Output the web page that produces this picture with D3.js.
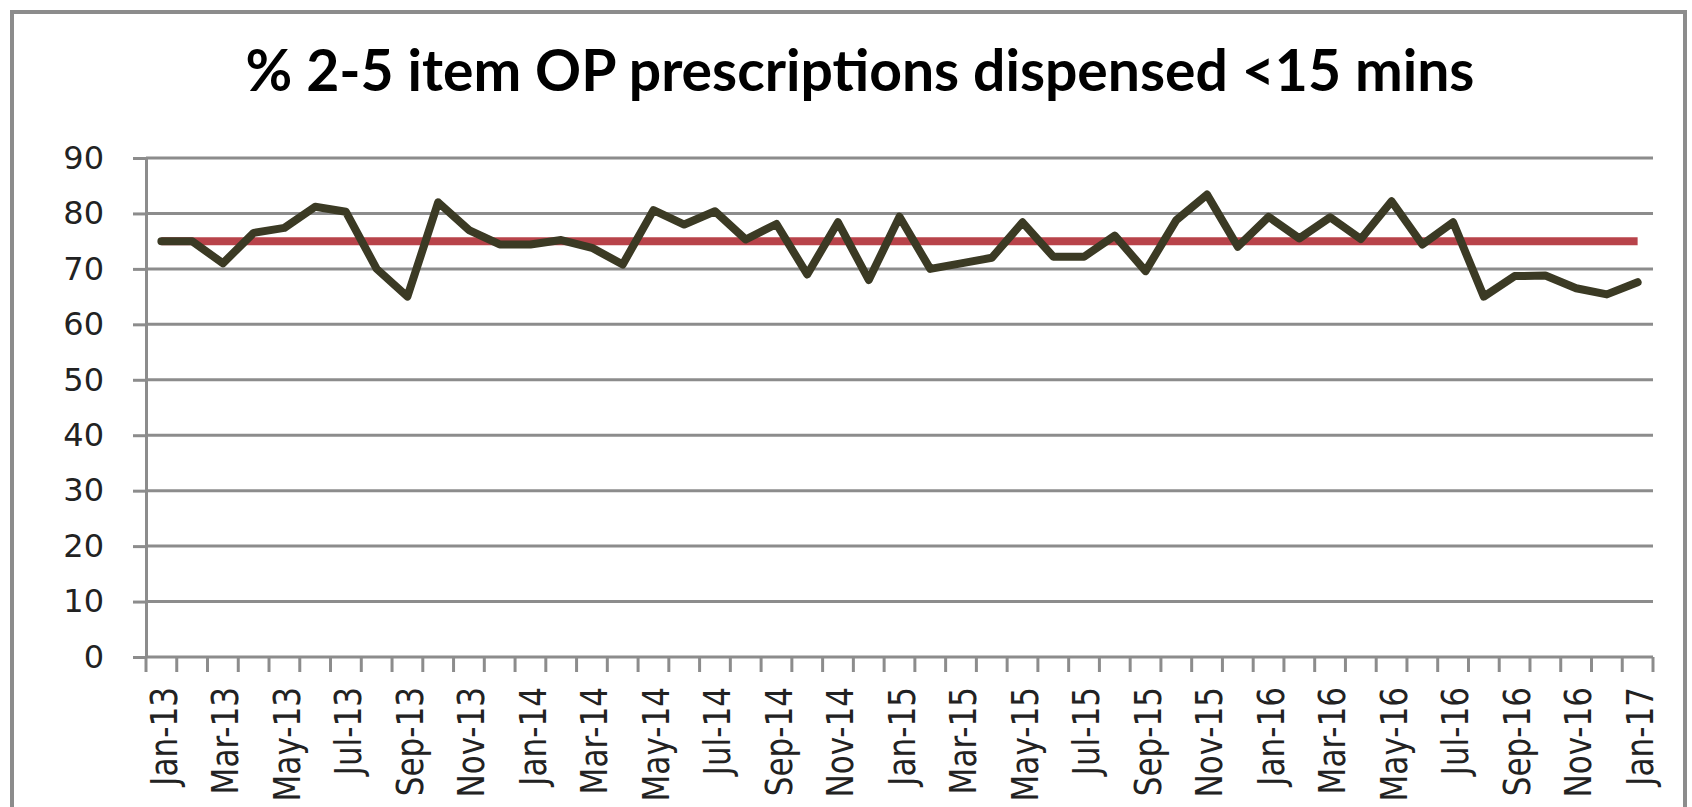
<!DOCTYPE html>
<html>
<head>
<meta charset="utf-8">
<script src="https://cdn.jsdelivr.net/npm/d3@7"></script>
<style>
  body { margin: 0; background: #fff; }
  svg { display: block; }
</style>
</head>
<body>
<svg id="canvas" width="1692" height="807"></svg>
<script>
let months = ['Jan-13','Feb-13','Mar-13','Apr-13','May-13','Jun-13','Jul-13','Aug-13','Sep-13','Oct-13','Nov-13','Dec-13',
              'Jan-14','Feb-14','Mar-14','Apr-14','May-14','Jun-14','Jul-14','Aug-14','Sep-14','Oct-14','Nov-14','Dec-14',
              'Jan-15','Feb-15','Mar-15','Apr-15','May-15','Jun-15','Jul-15','Aug-15','Sep-15','Oct-15','Nov-15','Dec-15',
              'Jan-16','Feb-16','Mar-16','Apr-16','May-16','Jun-16','Jul-16','Aug-16','Sep-16','Oct-16','Nov-16','Dec-16',
              'Jan-17']

// % dispensed < 15 mins
let pct = [75, 75, 71, 76.5, 77.4, 81.2, 80.3, 70, 65, 82, 77, 74.4,
           74.4, 75.2, 73.8, 70.8, 80.6, 78, 80.4, 75.3, 78.1, 69, 78.4, 68,
           79.4, 70, 71, 72, 78.4, 72.2, 72.2, 76, 69.6, 78.8, 83.4, 74,
           79.4, 75.5, 79.3, 75.4, 82.2, 74.4, 78.4, 65, 68.7, 68.8, 66.5, 65.4,
           67.6]

let target = months.map(() => 75)

let yTicks = [0, 10, 20, 30, 40, 50, 60, 70, 80, 90]

// every other month gets a label
let xLabels = months.filter((m, i) => i % 2 === 0)

let titleText = '% 2-5 item OP prescriptions dispensed <15 mins'

let canvas = d3.select('#canvas')

let plotLeft = 146, plotRight = 1653, plotTop = 158, plotBottom = 657
let gridColor = '#8c8c8c'

let drawChart = () => {

    // outer frame
    canvas.append('rect')
        .attr('x', 12).attr('y', 12)
        .attr('width', 1673).attr('height', 810)
        .attr('fill', 'none')
        .attr('stroke', gridColor)
        .attr('stroke-width', 4)

    let title = canvas.append('text')
        .text(titleText)
        .attr('x', 860)
        .attr('y', 91)
        .attr('text-anchor', 'middle')
        .style('font-family', 'Lato, "Open Sans", sans-serif')
        .style('font-weight', 700)
        .style('font-size', '36px')
        .attr('fill', '#000')
    // fit the title to the width in the picture
    let w = title.node().getComputedTextLength()
    title.style('font-size', (36 * 1229 / w) + 'px')

    let xScale = d3.scaleBand()
        .domain(months)
        .range([plotLeft, plotRight])
        .paddingInner(0)
        .paddingOuter(0)

    let yScale = d3.scaleLinear()
        .domain([0, 90])
        .range([plotBottom, plotTop])

    // gridlines
    canvas.append('g')
        .selectAll('line')
        .data(yTicks.filter(t => t > 0))
        .enter()
        .append('line')
        .attr('x1', plotLeft)
        .attr('x2', plotRight)
        .attr('y1', (t) => yScale(t))
        .attr('y2', (t) => yScale(t))
        .attr('stroke', gridColor)
        .attr('stroke-width', 3)

    // y axis
    let yAxis = d3.axisLeft(yScale)
        .tickValues(yTicks)
        .tickSize(13)
        .tickPadding(29)
        .tickSizeOuter(0)

    let yG = canvas.append('g')
        .attr('transform', 'translate(' + plotLeft + ',0)')
        .call(yAxis)
    yG.select('.domain').attr('stroke', gridColor).attr('stroke-width', 3)
    yG.selectAll('.tick line').attr('stroke', gridColor).attr('stroke-width', 3)
    yG.selectAll('.tick text')
        .style('font-family', '"DejaVu Sans", Verdana, sans-serif')
        .style('font-size', '32px')
        .attr('fill', '#222')

    // x axis: line, ticks between categories, rotated labels
    canvas.append('line')
        .attr('x1', plotLeft).attr('x2', plotRight)
        .attr('y1', plotBottom).attr('y2', plotBottom)
        .attr('stroke', gridColor)
        .attr('stroke-width', 3)

    let boundaries = months.map((m) => xScale(m)).concat([xScale(months[months.length - 1]) + xScale.bandwidth()])

    canvas.append('g')
        .selectAll('line')
        .data(boundaries)
        .enter()
        .append('line')
        .attr('x1', (b) => b)
        .attr('x2', (b) => b)
        .attr('y1', plotBottom)
        .attr('y2', plotBottom + 15)
        .attr('stroke', gridColor)
        .attr('stroke-width', 3)

    // labels in the picture are squeezed along their length
    canvas.append('g')
        .selectAll('text')
        .data(xLabels)
        .enter()
        .append('text')
        .text((m) => m)
        .attr('transform', (m) => {
            let cx = xScale(m) + xScale.bandwidth() / 2 + 2
            return 'translate(' + cx + ',' + (plotBottom + 30) + ') rotate(-90) scale(0.84,1)'
        })
        .attr('dy', '0.36em')
        .attr('text-anchor', 'end')
        .style('font-family', '"DejaVu Sans", Verdana, sans-serif')
        .style('font-size', '37px')
        .attr('fill', '#222')

    let line = d3.line()
        .x((d, i) => xScale(months[i]) + xScale.bandwidth() / 2)
        .y((d) => yScale(d))

    // target line
    canvas.append('path')
        .datum(target)
        .attr('d', line)
        .attr('fill', 'none')
        .attr('stroke', '#b8434a')
        .attr('stroke-width', 8)

    // actual
    canvas.append('path')
        .datum(pct)
        .attr('d', line)
        .attr('fill', 'none')
        .attr('stroke', '#3b3a24')
        .attr('stroke-width', 8)
        .attr('stroke-linejoin', 'round')
        .attr('stroke-linecap', 'round')
}

drawChart()
</script>
</body>
</html>
